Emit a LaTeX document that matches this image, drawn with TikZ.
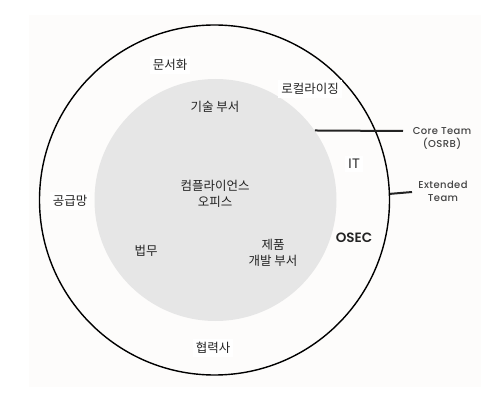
\documentclass[tikz,border=0pt]{standalone}
\usepackage{fontspec}
\setmainfont{Noto Sans CJK KR}
\newfontfamily\engfont[LetterSpace=4, UprightFont={* Medium}]{Poppins}
\newfontfamily\boldfont{Poppins}[BoldFont={* SemiBold}]
\definecolor{innergray}{RGB}{230,230,230}
\definecolor{paper}{RGB}{253,252,251}
\definecolor{textgray}{RGB}{35,35,35}
\tikzset{
  label/.style={text=textgray, font=\fontsize{12.5}{16}\selectfont, align=center, inner sep=3pt},
  outlabel/.style={label, fill=white},
  team/.style={text=textgray!85, font=\engfont\fontsize{10}{13}\selectfont, align=center, inner sep=0pt},
  tie/.style={draw=textgray, line width=2pt}
}

\begin{document}
\begin{tikzpicture}[x=1pt, y=1pt]
    \useasboundingbox (0,0) rectangle (504,405);
    \fill[paper] (29,18) rectangle (481,390);
    \node[circle, draw, line width=1.4pt, minimum size=350pt, inner sep=0pt] (outer) at (214.5,205) {};
    \node[circle, fill=innergray, minimum size=242pt, inner sep=0pt] (inner) at (215.5,205) {};
    \node[outlabel] (docs) at (170,340) {문서화};
    \node[outlabel] (local) at (310,316) {로컬라이징};
    \node[label] (tech) at (215,298) {기술 부서};
    \node[outlabel, font=\fontsize{13}{16}\selectfont] (it) at (354,241) {IT};
    \node[outlabel] (supply) at (70,204) {공급망};
    \node[label] (office) at (215,211) {컴플라이언스\\오피스};
    \node[label, font=\boldfont\bfseries\fontsize{13.5}{16}\selectfont] (osec) at (354,167) {OSEC};
    \node[label] (legal) at (146,154) {법무};
    \node[label] (product) at (273,152) {제품\\개발 부서};
    \node[outlabel] (partner) at (213,57) {협력사};
    \node[team] (core) at (442,267) {Core Team\\(OSRB)};
    \node[team] (extended) at (443,214) {Extended\\Team};
    \coordinate (coreend) at (403,274);
    \coordinate (extendend) at (412,213);
    \draw[tie] (inner.35) -- (coreend);
    \draw[tie] (outer.2.6) -- (extendend);
  \end{tikzpicture}
\end{document}
